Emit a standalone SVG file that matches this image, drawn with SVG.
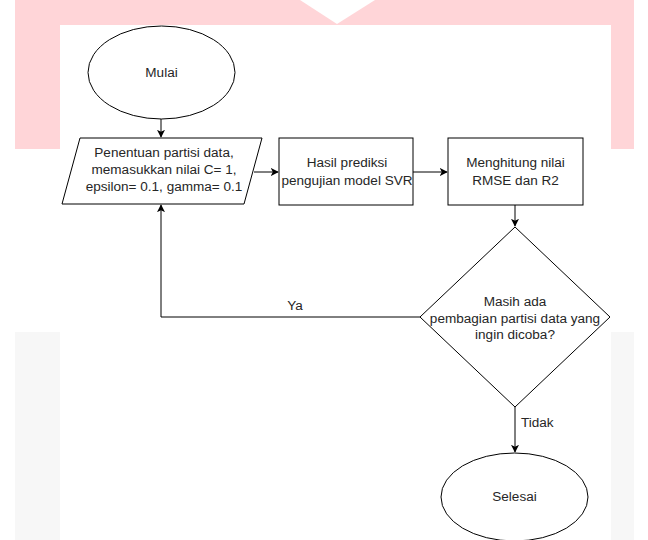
<svg xmlns="http://www.w3.org/2000/svg" width="648" height="540" viewBox="0 0 648 540">
  <defs>
    <marker id="arr" viewBox="0 0 10 10" refX="9" refY="5" markerWidth="8" markerHeight="8" markerUnits="userSpaceOnUse" orient="auto">
      <path d="M0,0 L10,5 L0,10 L2.5,5 Z" fill="#000"/>
    </marker>
  </defs>
  <style>
    .shape { fill: #fff; stroke: #000; stroke-width: 1; }
    .edge { fill: none; stroke: #000; stroke-width: 1; marker-end: url(#arr); }
    text { font-family: "Liberation Sans", Arial, sans-serif; font-size: 12px; fill: #262626; }
    .c { text-anchor: middle; }
  </style>
  <rect width="648" height="540" fill="#fff"/>
  <g id="background">
    <rect x="15" y="0" width="619" height="149" fill="#ffd5d8"/>
    <rect x="15" y="332" width="619" height="208" fill="#f7f7f7"/>
    <polygon points="300,0 375,0 337,24" fill="#fff"/>
    <rect x="60" y="25" width="551" height="515" fill="#fff"/>
  </g>
  <g id="connectors">
    <line class="edge" x1="161" y1="119" x2="161" y2="137"/>
    <line class="edge" x1="254" y1="172" x2="278" y2="172"/>
    <line class="edge" x1="413" y1="172" x2="447" y2="172"/>
    <line class="edge" x1="515" y1="205" x2="515" y2="226"/>
    <polyline class="edge" points="420,317 161,317 161,205"/>
    <line class="edge" x1="515" y1="407" x2="515" y2="452"/>
    <text transform="translate(295 310) scale(1.13 1)" class="c">Ya</text>
    <text transform="translate(521 427) scale(1.13 1)">Tidak</text>
  </g>
  <g id="mulai">
    <ellipse class="shape" cx="161.5" cy="72.5" rx="73.5" ry="46.5"/>
    <text transform="translate(161.5 76.5) scale(1.13 1)" class="c">Mulai</text>
  </g>
  <g id="input">
    <polygon class="shape" points="80,138 262,138 244,204 62,204"/>
    <text transform="translate(164 157) scale(1.13 1)" class="c">Penentuan partisi data,</text>
    <text transform="translate(164 174) scale(1.13 1)" class="c">memasukkan nilai C= 1,</text>
    <text transform="translate(164 191) scale(1.13 1)" class="c">epsilon= 0.1, gamma= 0.1</text>
  </g>
  <g id="prediksi">
    <rect class="shape" x="279" y="138" width="134" height="67"/>
    <text transform="translate(347 167) scale(1.13 1)" class="c">Hasil prediksi</text>
    <text transform="translate(347 185) scale(1.13 1)" class="c">pengujian model SVR</text>
  </g>
  <g id="hitung">
    <rect class="shape" x="448" y="138" width="135" height="67"/>
    <text transform="translate(515.5 167) scale(1.13 1)" class="c">Menghitung nilai</text>
    <text transform="translate(515.5 185) scale(1.13 1)" class="c">RMSE dan R2</text>
  </g>
  <g id="keputusan">
    <polygon class="shape" points="515,227 610,317 515,407 420,317"/>
    <text transform="translate(515 306) scale(1.13 1)" class="c">Masih ada</text>
    <text transform="translate(515 323) scale(1.13 1)" class="c">pembagian partisi data yang</text>
    <text transform="translate(515 339) scale(1.13 1)" class="c">ingin dicoba?</text>
  </g>
  <g id="selesai">
    <ellipse class="shape" cx="514.5" cy="497" rx="73.5" ry="44"/>
    <text transform="translate(514.5 501) scale(1.13 1)" class="c">Selesai</text>
  </g>
</svg>
